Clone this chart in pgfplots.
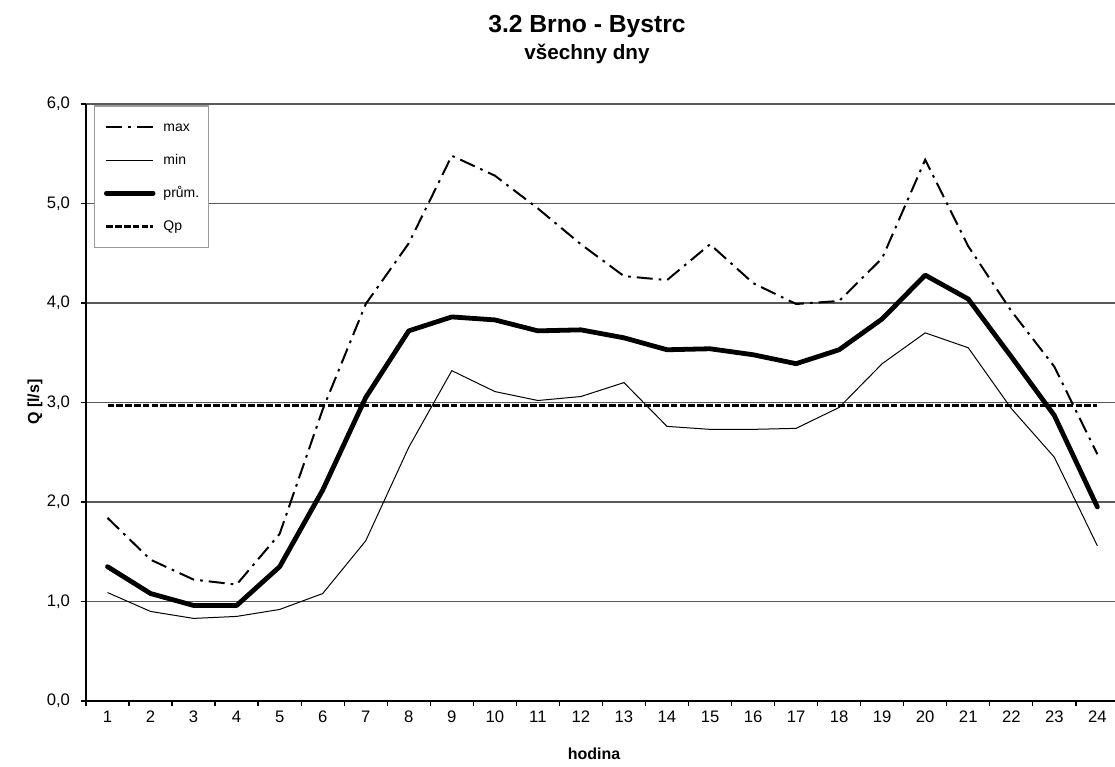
\documentclass[border=0pt]{standalone}
\usepackage{fontspec}
\setmainfont{Liberation Sans}
\usepackage{pgfplots}
\pgfplotsset{compat=1.18}

\pgfplotstableread{
h max min avg
1 1.84 1.09 1.35
2 1.42 0.90 1.08
3 1.22 0.83 0.96
4 1.17 0.85 0.96
5 1.68 0.92 1.35
6 2.93 1.08 2.12
7 3.99 1.61 3.05
8 4.60 2.55 3.72
9 5.48 3.32 3.86
10 5.28 3.11 3.83
11 4.95 3.02 3.72
12 4.59 3.06 3.73
13 4.27 3.20 3.65
14 4.23 2.76 3.53
15 4.59 2.73 3.54
16 4.20 2.73 3.48
17 3.99 2.74 3.39
18 4.02 2.95 3.53
19 4.45 3.39 3.84
20 5.44 3.70 4.28
21 4.57 3.55 4.04
22 3.92 2.94 3.46
23 3.36 2.45 2.87
24 2.48 1.56 1.95
}\datatable

\begin{document}
\begin{tikzpicture}
\begin{axis}[
  at={(64.5pt,49.5pt)}, anchor=south west,
  scale only axis, width=771.75pt, height=447.75pt,
  xmin=0.5, xmax=24.41, ymin=0, ymax=6,
  axis x line=bottom, axis y line=left,
  axis line style={-, black, line width=1.5pt},
  ytick={0,1,2,3,4,5,6},
  ymajorgrids, grid style={black!65, line width=1pt},
  xtick={0.5,1.5,...,23.5},
  xticklabels={1,2,3,4,5,6,7,8,9,10,11,12,13,14,15,16,17,18,19,20,21,22,23,24},
  xticklabel style={xshift=16.14pt},
  tick align=outside, major tick length=4pt,
  tick style={black, line width=1pt},
  /pgf/number format/assume math mode=true,
  yticklabel style={xshift=-4.5pt, /pgf/number format/.cd, fixed, fixed zerofill, precision=1, use comma},
  ticklabel style={font=\fontsize{12.5}{14}\selectfont},
  legend image code/.code={\draw[#1] (0pt,0pt) -- (35pt,0pt);},
  legend style={at={(rel axis cs:0.0078,0.998)}, anchor=north west,
    draw=black!40, line width=1pt, fill=white,
    inner xsep=7pt, inner ysep=11pt,
    row sep=14.75pt,
    font=\fontsize{10.5}{12}\selectfont,
    nodes={inner sep=0pt, text height=8pt, text depth=2pt},
    cells={anchor=west},
  },
  legend cell align=left,
]
\addplot[black, line width=1.5pt, dash pattern=on 12pt off 4.5pt on 2pt off 4.5pt] table[x=h, y=max] {\datatable};
\addlegendentry{\hspace{6pt}max}
\addplot[black, line width=0.75pt] table[x=h, y=min] {\datatable};
\addlegendentry{\hspace{6pt}min}
\addplot[black, line width=3.6pt, line join=round, line cap=round] table[x=h, y=avg] {\datatable};
\addlegendentry{\hspace{6pt}prům.}
\addplot[black, line width=2.2pt, dash pattern=on 5pt off 1.6pt] coordinates {(1,2.97) (24,2.97)};
\addlegendentry{\hspace{6pt}Qp}
\end{axis}
\pgfresetboundingbox
\useasboundingbox (0,0) rectangle (836.25pt,575.25pt);
\node[anchor=base, font=\bfseries\fontsize{18.5}{20}\selectfont, inner sep=0pt] at (440.25pt,550.9pt) {3.2 Brno - Bystrc};
\node[anchor=base, font=\bfseries\fontsize{15.5}{17}\selectfont, inner sep=0pt] at (440.25pt,530.25pt) {všechny dny};
\node[anchor=base, font=\bfseries\fontsize{12}{14}\selectfont, inner sep=0pt] at (445.5pt,5.5pt) {hodina};
\node[rotate=90, font=\bfseries\fontsize{12}{14}\selectfont, inner sep=0pt] at (26.25pt,273.75pt) {Q [l/s]};
\end{tikzpicture}
\end{document}
